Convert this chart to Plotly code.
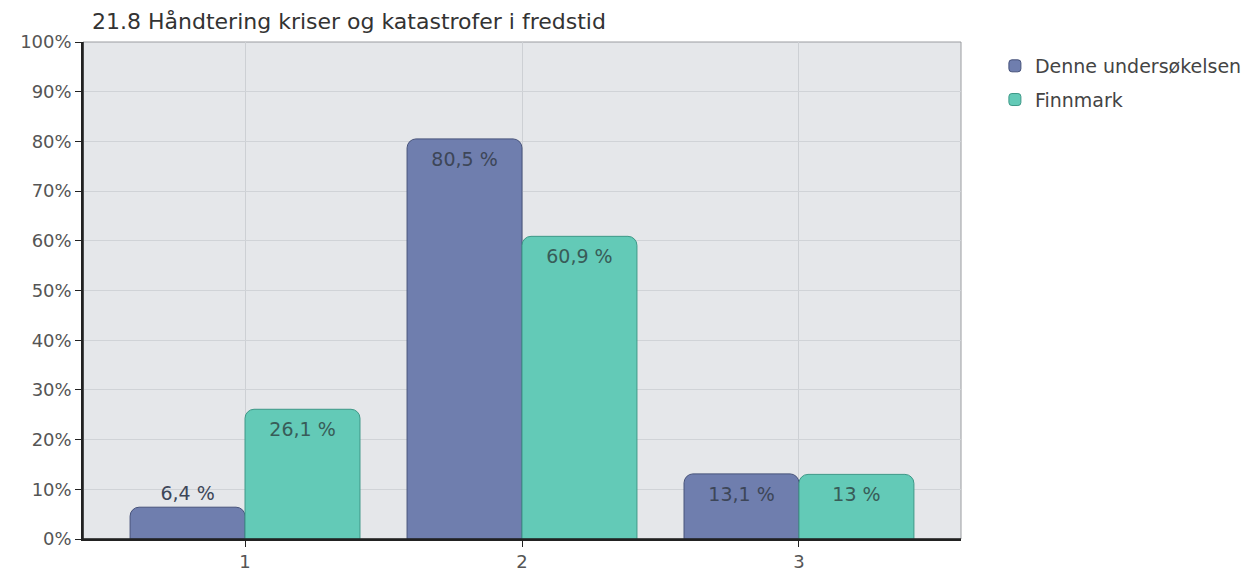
import plotly.graph_objects as go

categories = [1, 2, 3]
tick_labels = ["1", "2", "3"]
series_names = ["Denne undersøkelsen", "Finnmark"]
denne = [6.4, 80.5, 13.1]
finnmark = [26.1, 60.9, 13.0]
denne_text = ["6,4 %", "80,5 %", "13,1 %"]
finnmark_text = ["26,1 %", "60,9 %", "13 %"]

FONT = "DejaVu Sans, Liberation Sans, Arial"

fig = go.Figure()
fig.add_trace(go.Bar(
    x=categories, y=denne, name=series_names[0], legendgroup="a",
    text=denne_text, textposition=["outside", "inside", "inside"],
    insidetextanchor="end",
    textfont=dict(size=19, color="#3d4658", family=FONT),
    marker=dict(color="#6f7eae", line=dict(color="#46527a", width=1), cornerradius=9),
    cliponaxis=False,
))
fig.add_trace(go.Bar(
    x=categories, y=finnmark, name=series_names[1], legendgroup="b",
    text=finnmark_text, textposition="inside",
    insidetextanchor="end",
    textfont=dict(size=19, color="#385c58", family=FONT),
    marker=dict(color="#63cab7", line=dict(color="#3d9887", width=1), cornerradius=9),
    cliponaxis=False,
))

fig.update_layout(
    width=1254, height=576,
    margin=dict(l=72, r=301, t=34, b=39),
    paper_bgcolor="white",
    plot_bgcolor="#e5e7ea",
    barmode="group",
    bargap=0.17,
    bargroupgap=0,
    font=dict(family=FONT, size=18, color="#555"),
    title=dict(text="21.8 Håndtering kriser og katastrofer i fredstid",
               x=0.067, xanchor="left", y=0.977, yanchor="middle",
               font=dict(size=22, color="#333", family=FONT)),
    legend=dict(x=1.0386, xanchor="left", y=0.99, yanchor="top",
                font=dict(size=19, color="#444", family=FONT), bgcolor="rgba(0,0,0,0)",
                traceorder="grouped", tracegroupgap=6),
    showlegend=True,
)
fig.update_xaxes(
    range=[0.415, 3.585], tickvals=categories, ticktext=tick_labels,
    showgrid=True, gridcolor="#cdd0d4", gridwidth=1,
    showline=True, linecolor="#222", linewidth=1.5,
    ticks="outside", ticklen=6, tickcolor="#222",
    tickfont=dict(size=18, color="#555", family=FONT), zeroline=False,
)
fig.update_yaxes(
    range=[0, 100], dtick=10, ticksuffix="%",
    showgrid=True, gridcolor="#d0d3d7", gridwidth=1,
    showline=True, linecolor="#222", linewidth=1.5,
    ticks="outside", ticklen=6, tickcolor="#222",
    tickfont=dict(size=18, color="#555", family=FONT), zeroline=False,
)
fig.add_shape(type="rect", xref="paper", yref="paper", x0=0, x1=1, y0=0, y1=1,
              line=dict(color="#9a9ca0", width=1), layer="below")
fig.add_shape(type="line", xref="paper", yref="paper", x0=0, x1=0, y0=0, y1=1,
              line=dict(color="#222", width=1.5))
fig.add_shape(type="line", xref="paper", yref="paper", x0=0, x1=1, y0=0, y1=0,
              line=dict(color="#222", width=1.5))

fig.write_html("out.html")
